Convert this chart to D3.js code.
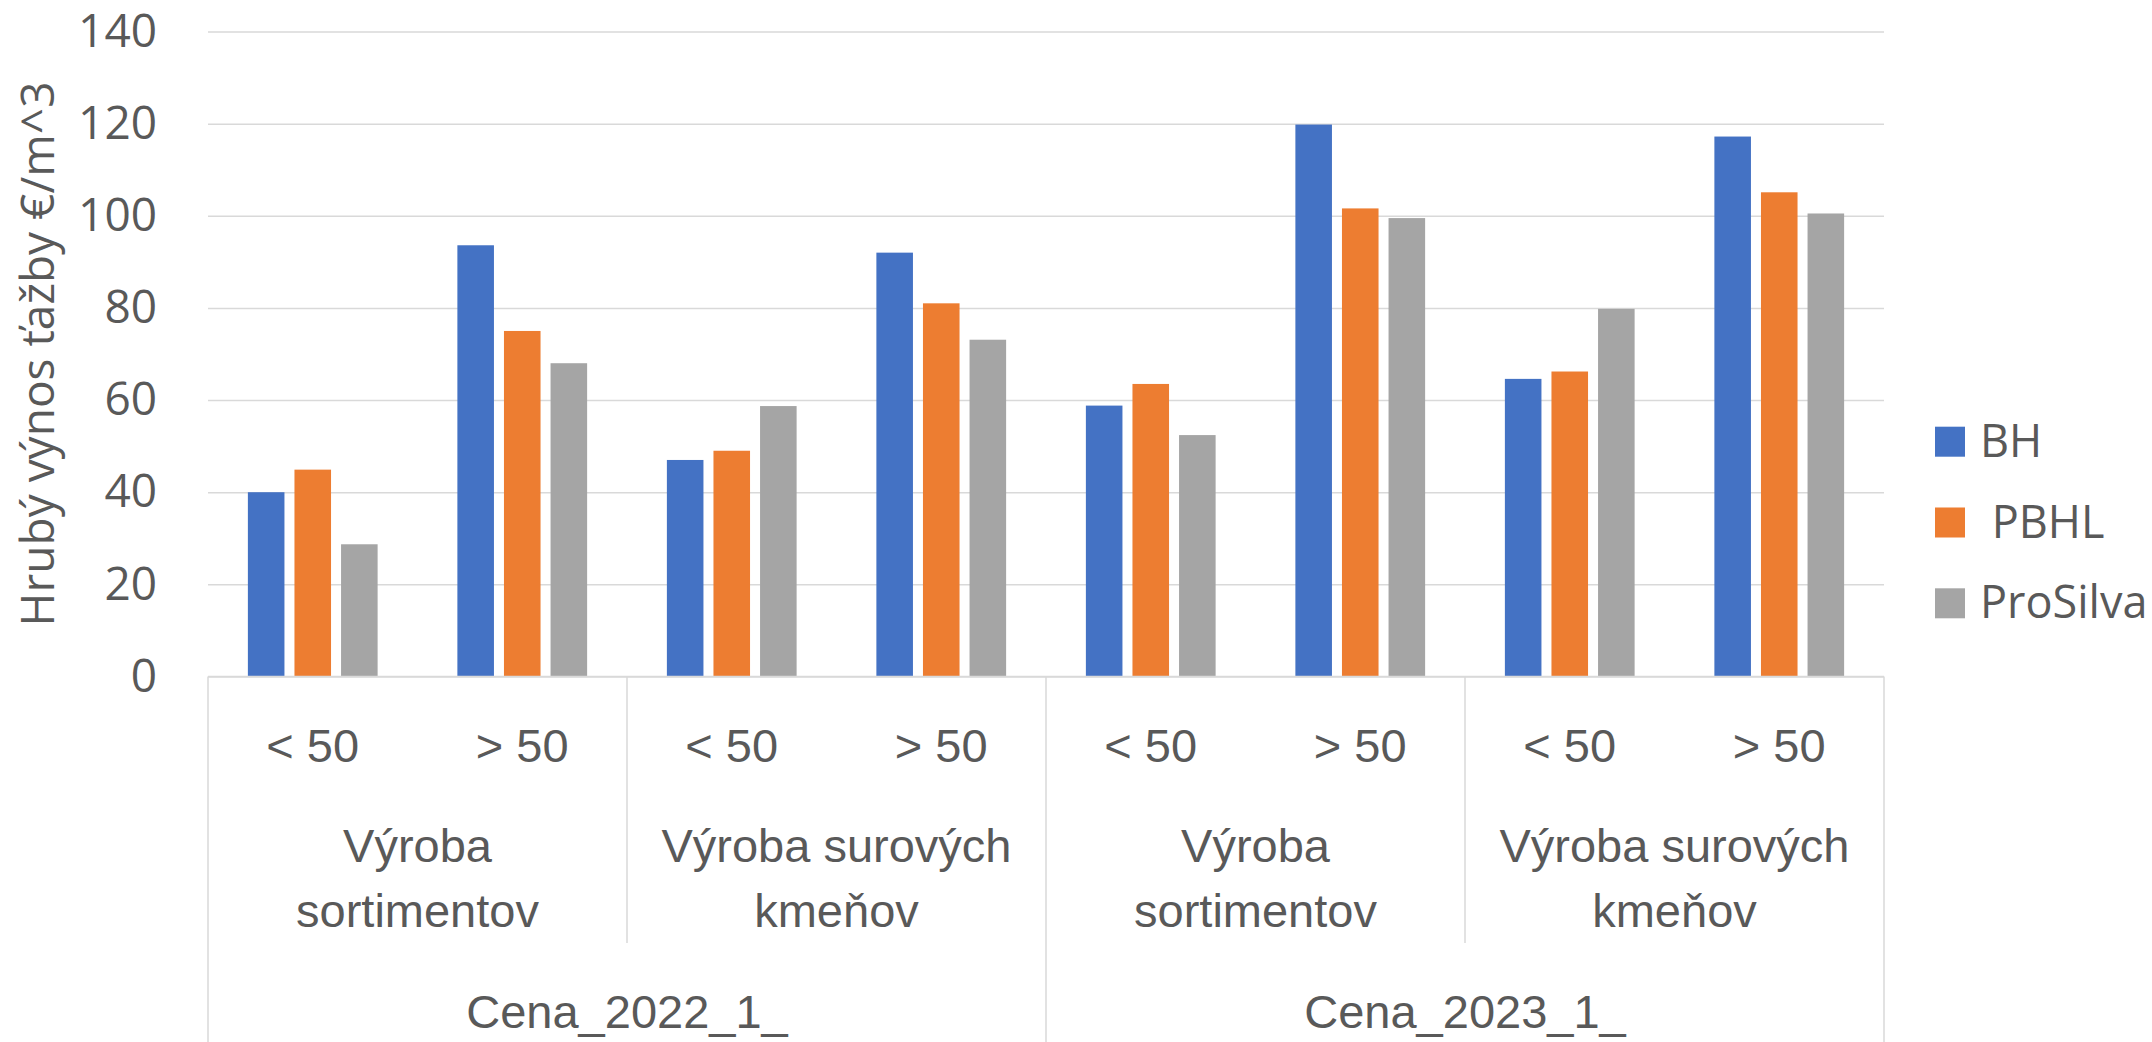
<!doctype html>
<html lang="sk">
<head>
<meta charset="utf-8">
<title>Hrubý výnos ťažby</title>
<script src="https://cdn.jsdelivr.net/npm/d3@7"></script>
<style>
  body { margin: 0; background: #fff; }
  text { fill: #595959; }
</style>
</head>
<body>
<svg id="chart" width="2152" height="1042"></svg>
<script>
// data
var seriesNames = ["BH", " PBHL", "ProSilva"];
var sizeLabels = ["< 50", "> 50", "< 50", "> 50", "< 50", "> 50", "< 50", "> 50"];
var productionLabels = [["Výroba", "sortimentov"], ["Výroba surových", "kmeňov"],
                        ["Výroba", "sortimentov"], ["Výroba surových", "kmeňov"]];
var priceLabels = ["Cena_2022_1_", "Cena_2023_1_"];

var bhValues = [40, 93.6, 47, 92, 58.8, 119.8, 64.6, 117.2];
var pbhlValues = [44.9, 75, 49, 81, 63.5, 101.6, 66.2, 105.1];
var proSilvaValues = [28.7, 68, 58.7, 73.1, 52.4, 99.5, 79.8, 100.5];
var yTicks = [0, 20, 40, 60, 80, 100, 120, 140];

var colors = ["#4472C4", "#ED7D31", "#A5A5A5"];
var allValues = [bhValues, pbhlValues, proSilvaValues];

var svg = d3.select("#chart");
var plotLeft = 208, plotRight = 1884, plotTop = 31.5, plotBottom = 676.5;

var leafIds = sizeLabels.map(function(d, i) { return i; });
var x0 = d3.scaleBand().domain(leafIds).range([plotLeft, plotRight]).padding(0);
var x1 = d3.scaleBand().domain(seriesNames).range([0, x0.bandwidth()])
    .paddingInner(0.215).paddingOuter(0.856);
var y = d3.scaleLinear().domain([0, 140]).range([plotBottom, plotTop]);

// gridlines + tick labels
var yAxis = svg.append("g")
    .attr("transform", "translate(" + plotLeft + ",0)")
    .call(d3.axisLeft(y).tickValues(yTicks).tickSize(-(plotRight - plotLeft)).tickPadding(51));
yAxis.select(".domain").remove();
yAxis.selectAll("line").attr("stroke", "#d9d9d9").attr("stroke-width", 1.5);
yAxis.selectAll("text")
    .style("font-family", "'Open Sans', sans-serif")
    .style("font-size", "46px")
    .attr("fill", "#595959");

// bars
var rows = leafIds.map(function(i) {
  return seriesNames.map(function(s, k) { return { leaf: i, series: s, k: k, value: allValues[k][i] }; });
});
svg.append("g").selectAll("g")
  .data(rows).enter().append("g")
    .attr("transform", function(d, i) { return "translate(" + x0(i) + ",0)"; })
  .selectAll("rect")
  .data(function(d) { return d; }).enter().append("rect")
    .attr("x", function(d) { return x1(d.series); })
    .attr("width", x1.bandwidth())
    .attr("y", function(d) { return y(d.value); })
    .attr("height", function(d) { return y(0) - y(d.value); })
    .attr("fill", function(d) { return colors[d.k]; });

// category axis (three levels)
var axisG = svg.append("g").attr("stroke", "#d9d9d9").attr("stroke-width", 1.5);
axisG.append("line").attr("x1", plotLeft).attr("x2", plotRight).attr("y1", plotBottom).attr("y2", plotBottom);
var step = x0.step();
// level 2 separators
productionLabels.forEach(function(d, j) {
  if (j % 2 === 1) {
    var xs = x0(j * 2);
    axisG.append("line").attr("x1", xs).attr("x2", xs).attr("y1", plotBottom).attr("y2", 943);
  }
});
// level 3 separators
for (var p = 0; p <= priceLabels.length; p++) {
  var xp = p < priceLabels.length ? x0(p * 4) : plotRight;
  axisG.append("line").attr("x1", xp).attr("x2", xp).attr("y1", plotBottom).attr("y2", 1042);
}

var labelFont = "'Liberation Sans', Arial, sans-serif";
svg.append("g").selectAll("text")
  .data(sizeLabels).enter().append("text")
    .attr("x", function(d, i) { return x0(i) + step / 2; })
    .attr("y", 762)
    .attr("text-anchor", "middle")
    .style("font-family", labelFont).style("font-size", "47px")
    .text(function(d) { return d; });

var prodG = svg.append("g").selectAll("text")
  .data(productionLabels).enter().append("text")
    .attr("text-anchor", "middle")
    .style("font-family", labelFont).style("font-size", "47px");
prodG.selectAll("tspan")
  .data(function(d, j) { return d.map(function(t, l) { return { t: t, l: l, j: j }; }); })
  .enter().append("tspan")
    .attr("x", function(d) { return x0(d.j * 2) + step; })
    .attr("y", function(d) { return 862 + d.l * 65; })
    .text(function(d) { return d.t; });

svg.append("g").selectAll("text")
  .data(priceLabels).enter().append("text")
    .attr("x", function(d, p) { return x0(p * 4) + step * 2; })
    .attr("y", 1028)
    .attr("text-anchor", "middle")
    .style("font-family", labelFont).style("font-size", "47px")
    .text(function(d) { return d; });

// y title
svg.append("text")
    .attr("transform", "rotate(-90)")
    .attr("x", -(plotTop + plotBottom) / 2)
    .attr("y", 54)
    .attr("text-anchor", "middle")
    .style("font-family", "'Open Sans', sans-serif")
    .style("font-size", "46px")
    .text("Hrubý výnos ťažby €/m^3");

// legend
var legend = svg.append("g").selectAll("g")
  .data(seriesNames).enter().append("g")
    .attr("transform", function(d, i) { return "translate(1935," + (426.7 + i * 80.8) + ")"; });
legend.append("rect").attr("width", 30).attr("height", 30)
    .attr("fill", function(d, i) { return colors[i]; });
legend.append("text")
    .attr("x", 45).attr("y", 30)
    .style("white-space", "pre")
    .style("font-family", "'Open Sans', sans-serif")
    .style("font-size", "45px")
    .text(function(d) { return d; });
</script>
</body>
</html>
